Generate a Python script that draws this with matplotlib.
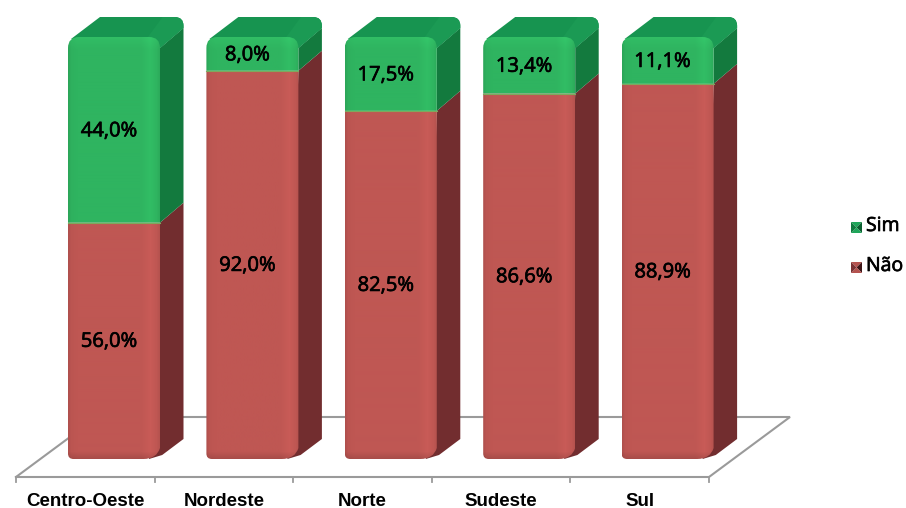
import numpy as np
import matplotlib
matplotlib.use('Agg')
import matplotlib.pyplot as plt
import matplotlib.patheffects as pe
from matplotlib.path import Path
from matplotlib.patches import PathPatch, Polygon

# Data
regioes = ['Centro-Oeste', 'Nordeste', 'Norte', 'Sudeste', 'Sul']
nao = [56.0, 92.0, 82.5, 86.6, 88.9]
sim = [44.0, 8.0, 17.5, 13.4, 11.1]
nao_labels = ['56,0%', '92,0%', '82,5%', '86,6%', '88,9%']
sim_labels = ['44,0%', '8,0%', '17,5%', '13,4%', '11,1%']

# Colours: front, side, top
red = ('#bf5753', '#722d2f')
green = ('#2fb460', '#137a3e', '#179450')

# Pixel geometry of the fake 3D scene
W, H = 906, 508
x0_px, pitch_px = 114.0, 138.4   # centre of first bar, bar spacing
y0_px, unit_px = 459.0, 4.22     # y of 0 %, pixels per 1 %

fig = plt.figure(figsize=(W / 100, H / 100), dpi=100)
ax = fig.add_axes([0, 0, 1, 1])
ax.set_xlim((0 - x0_px) / pitch_px, (W - x0_px) / pitch_px)
ax.set_ylim((y0_px - H) / unit_px, y0_px / unit_px)
ax.axis('off')

bar_w = 92 / pitch_px
dx = 23.5 / pitch_px
dy = 20 / unit_px
rx = 11 / pitch_px
ry = 11 / unit_px
font = ['Open Sans', 'Liberation Sans', 'DejaVu Sans']
# Open Sans only comes in regular here, a thin stroke gives the medium weight
heavier = [pe.withStroke(linewidth=0.5, foreground='black')]


def dx_px(p):
    return p / pitch_px


def dy_px(p):
    return p / unit_px


def px(x, y):
    return (x - x0_px) / pitch_px, (y0_px - y) / unit_px


def front_path(xl, xr, yb, yt, round_bottom, round_top):
    verts = []
    codes = []
    if round_bottom:
        verts += [(xl, yb + ry * 0.5)]
        codes += [Path.MOVETO]
    else:
        verts += [(xl, yb)]
        codes += [Path.MOVETO]
    if round_top:
        verts += [(xl, yt - ry), (xl, yt), (xl + rx, yt), (xr - rx, yt), (xr, yt), (xr, yt - ry)]
        codes += [Path.LINETO, Path.CURVE3, Path.CURVE3, Path.LINETO, Path.CURVE3, Path.CURVE3]
    else:
        verts += [(xl, yt), (xr, yt)]
        codes += [Path.LINETO, Path.LINETO]
    if round_bottom:
        verts += [(xr, yb + ry), (xr - rx * 0.3, yb), (xr - rx * 1.5, yb),
                  (xl + rx * 0.5, yb), (xl, yb), (xl, yb + ry * 0.5)]
        codes += [Path.LINETO, Path.CURVE3, Path.CURVE3, Path.LINETO, Path.CURVE3, Path.CURVE3]
    else:
        verts += [(xr, yb), (xl, yb)]
        codes += [Path.LINETO, Path.LINETO]
    return Path(verts, codes)


def shaded_front(xl, xr, yb, yt, colour, round_bottom, round_top, zorder):
    # horizontal shading with a soft highlight close to the right edge
    u = np.linspace(0, 1, 92)
    shade = np.interp(u, [0, 0.03, 0.1, 0.8, 0.9, 0.97, 1], [0.92, 0.98, 1.0, 1.0, 1.05, 1.0, 0.95])
    n = max(int((yt - yb) * unit_px), 2)
    v = np.linspace(1, 0, n)  # top to bottom in image order
    hpx = np.maximum((yt - yb) * unit_px, 1)
    vs = np.ones(n)
    if round_top:
        vs += 0.05 * np.clip(1 - (1 - v) * hpx / 12, 0, 1)
    if round_bottom:
        vs -= 0.12 * np.clip(1 - v * hpx / 7, 0, 1)
    base = np.array(matplotlib.colors.to_rgb(colour))
    img = np.clip(base[None, None, :] * shade[None, :, None] * vs[:, None, None], 0, 1)
    im = ax.imshow(img, extent=(xl, xr, yb, yt), aspect='auto', zorder=zorder, interpolation='bilinear')
    im.set_clip_path(PathPatch(front_path(xl, xr, yb, yt, round_bottom, round_top), transform=ax.transData))


def legend_marker(x, y, colour, light, dark):
    s = 11
    corners = [(x, y), (x + s, y), (x + s, y + s), (x, y + s)]
    mid = (x + s / 2, y + s / 2)
    faces = [(corners[0], corners[1], colour), (corners[1], corners[2], dark),
             (corners[2], corners[3], colour), (corners[3], corners[0], light)]
    for a, b, c in faces:
        ax.add_patch(Polygon([px(*a), px(*b), px(*mid)], closed=True, fc=c, ec='none', zorder=5))


# Floor of the scene
floor = [(16, 477), (709, 477), (790, 417), (97, 417), (16, 477)]
ax.plot(*zip(*[px(*p) for p in floor]), color='#9a9a9a', lw=1.5, zorder=1, solid_joinstyle='miter')
for i in range(len(regioes) + 1):
    tx, ty = px(16 + i * (709 - 16) / len(regioes), 477)
    ax.plot([tx, tx], [ty, ty - dy_px(5)], color='#9a9a9a', lw=1.3, zorder=1)

for i, regiao in enumerate(regioes):
    xl = i - bar_w / 2
    xr = i + bar_w / 2
    total = nao[i] + sim[i]

    # side faces
    ax.add_patch(Polygon([(xr - rx, 0), (xr + rx * 0.2, dy * 0.2), (xr + dx, dy), (xr + dx, nao[i] + dy), (xr, nao[i])],
                         closed=True, fc=red[1], ec='none', zorder=2))
    ax.add_patch(Polygon([(xr, nao[i]), (xr + dx, nao[i] + dy), (xr + dx, total + dy - ry), (xr, total - ry)],
                         closed=True, fc=green[1], ec='none', zorder=2))

    # top face with rounded back corner
    top = Path([(xl + dx_px(3), total - dy_px(2)),
                (xl + dx_px(32), total + dy),
                (xr + dx - rx * 0.8, total + dy),
                (xr + dx, total + dy),
                (xr + dx, total + dy - ry * 0.8),
                (xr + dx, total + dy - ry),
                (xr, total - ry),
                (xr - rx, total),
                (xl + dx_px(3), total - dy_px(2))],
               [Path.MOVETO, Path.LINETO, Path.LINETO, Path.CURVE3, Path.CURVE3,
                Path.LINETO, Path.LINETO, Path.LINETO, Path.CLOSEPOLY])
    ax.add_patch(PathPatch(top, fc=green[2], ec='none', zorder=2))
    # lighter bevel running to the back corner
    bevel = Path([(xr - rx * 1.1, total),
                  (xr + dx - rx * 1.9, total + dy),
                  (xr + dx - rx * 0.8, total + dy),
                  (xr + dx, total + dy),
                  (xr + dx, total + dy - ry * 0.8),
                  (xr + dx, total + dy - ry),
                  (xr, total - ry),
                  (xr - rx * 1.1, total)],
                 [Path.MOVETO, Path.LINETO, Path.LINETO, Path.CURVE3, Path.CURVE3,
                  Path.LINETO, Path.LINETO, Path.CLOSEPOLY])
    ax.add_patch(PathPatch(bevel, fc='#1b9a54', ec='none', zorder=2.1))

    # front faces
    shaded_front(xl, xr, 0, nao[i], red[0], True, False, 3)
    shaded_front(xl, xr, nao[i], total, green[0], False, True, 3)
    ax.plot([xl, xr], [nao[i], nao[i]], color='#7fa85c', lw=0.8, zorder=3.2)

    # value labels
    lx = i - dx_px(5)
    ax.text(lx, nao[i] / 2 - dy_px(1), nao_labels[i], ha='center', va='center', fontsize=14.5, color='black',
            family=font, zorder=4, path_effects=heavier)
    ax.text(lx, nao[i] + sim[i] / 2 - dy_px(1.5), sim_labels[i], ha='center', va='center', fontsize=14.5, color='black',
            family=font, zorder=4, path_effects=heavier)

    # category label, centred on its floor section
    cx, cy = px(16 + (i + 0.5) * (709 - 16) / len(regioes), 501)
    ax.text(cx, cy, regiao, ha='center', va='center', fontsize=13.5, color='black',
            family=['Liberation Sans', 'DejaVu Sans'], weight='bold')

# Legend
legend_marker(851, 222, '#1fa65a', '#107a3e', '#0b5f30')
legend_marker(851, 262, '#b5534f', '#7a3234', '#3f1517')
for label, y in [('Sim', 226), ('Não', 266)]:
    tx, ty = px(866, y)
    ax.text(tx, ty, label, ha='left', va='center', fontsize=14, color='black', family=font, path_effects=heavier)

fig.savefig('out.png', dpi=100)
